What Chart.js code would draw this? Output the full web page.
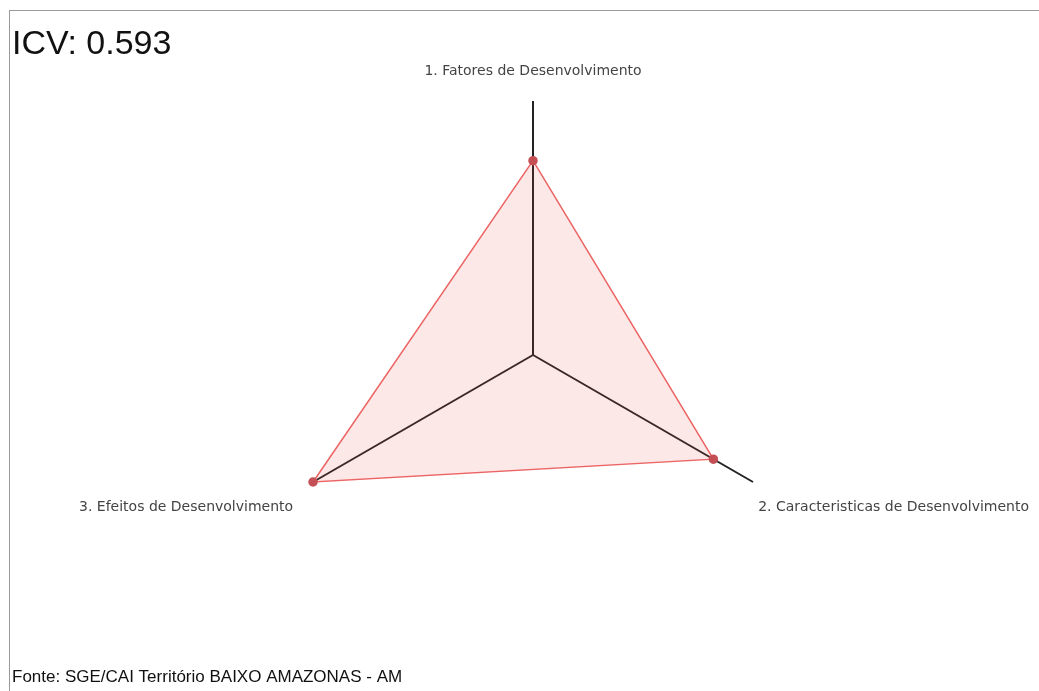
<!DOCTYPE html>
<html>
<head>
<meta charset="utf-8">
<script src="https://cdn.jsdelivr.net/npm/chart.js@4.4.1/dist/chart.umd.min.js"></script>
<style>
  html, body { margin: 0; padding: 0; background: #fff; overflow: hidden; }
  #moldura {
    position: absolute; left: 9px; top: 10px; width: 1070px; height: 690px;
    border-left: 1px solid #9a9a9a; border-top: 1px solid #9a9a9a;
  }
  #grafico { position: absolute; left: 2px; top: 0; display: block; }
</style>
</head>
<body>
<div id="moldura"><canvas id="grafico" width="1050" height="680"></canvas></div>
<script>
// dados do gráfico
let eixos = [
  "1. Fatores de Desenvolvimento",
  "2. Caracteristicas de Desenvolvimento",
  "3. Efeitos de Desenvolvimento",
];
let valores = [0.765, 0.82, 1.0];
let titulo = "ICV: 0.593";
let fonte = "Fonte: SGE/CAI Território BAIXO AMAZONAS - AM";

// ajuste fino da posição de cada rótulo (distância e altura de linha)
let rotuloPadding = [19, 6, 23];
let rotuloLinha = [1.5, 3.14, 1.93];

let radar = new Chart(document.getElementById("grafico"), {
  type: "radar",
  data: {
    labels: eixos,
    datasets: [
      {
        label: "ICV",
        data: valores,
        backgroundColor: "rgba(240, 80, 80, 0.13)",
        borderColor: "rgba(236, 100, 100, 1)",
        borderWidth: 1.5,
        pointBackgroundColor: "rgba(196, 80, 86, 1)",
        pointBorderColor: "rgba(196, 80, 86, 1)",
        pointRadius: 4,
      },
    ],
  },
  options: {
    responsive: false,
    animation: false,
    layout: {
      padding: { left: 0, right: 0, top: 0, bottom: 0 },
    },
    plugins: {
      legend: { display: false },
      tooltip: { enabled: false },
      title: {
        display: true,
        text: titulo,
        align: "start",
        color: "#111",
        font: { family: "Liberation Sans, Arial", size: 34, weight: "normal", lineHeight: 1 },
        // o título invade a área do gráfico, como no original
        padding: { top: 17, bottom: -21 },
      },
      subtitle: {
        display: true,
        text: fonte,
        position: "bottom",
        align: "start",
        color: "#111",
        font: { family: "Liberation Sans, Arial", size: 17, weight: "normal" },
        padding: { top: 38, bottom: 3 },
      },
    },
    scales: {
      r: {
        min: 0,
        max: 1,
        grid: { display: false },
        ticks: { display: false },
        angleLines: { display: true, color: "#222", lineWidth: 2 },
        pointLabels: {
          color: "#444",
          padding: (ctx) => rotuloPadding[ctx.index],
          font: (ctx) => ({
            family: "DejaVu Sans",
            size: 14,
            lineHeight: rotuloLinha[ctx.index],
          }),
        },
      },
    },
  },
});
</script>
</body>
</html>
